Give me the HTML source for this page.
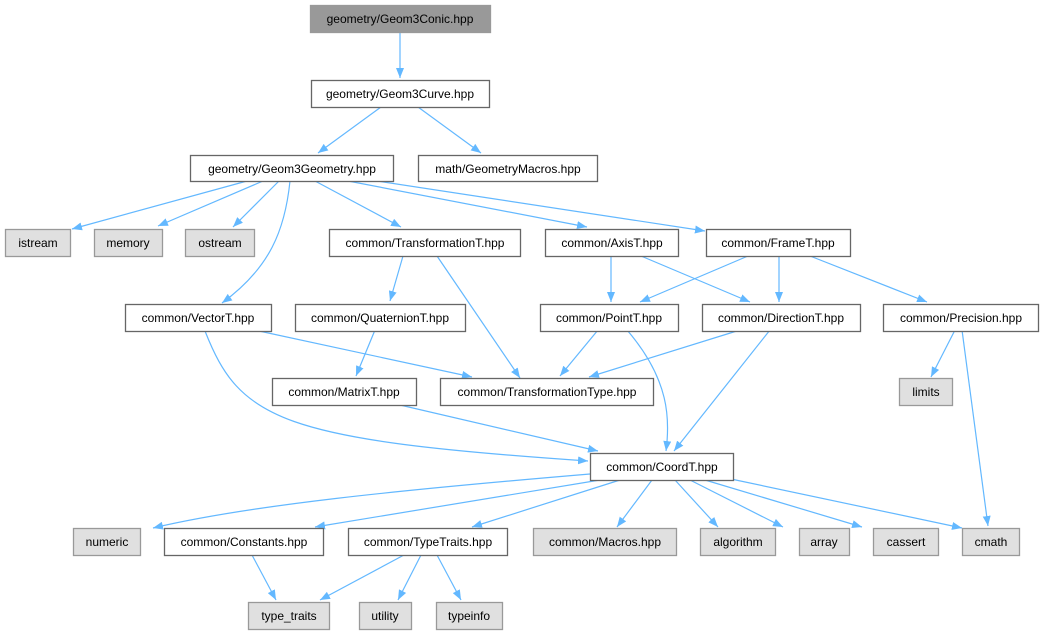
<!DOCTYPE html>
<html><head><meta charset="utf-8"><style>
html,body{margin:0;padding:0;background:#fff;}
svg{display:block;}
text{font-family:"Liberation Sans",Arial,sans-serif;font-size:12px;fill:#000;}
</style></head><body>
<svg width="1044" height="635" viewBox="0 0 1044 635" xmlns="http://www.w3.org/2000/svg">
<defs><marker id="a" markerWidth="10" markerHeight="8" refX="10" refY="4" orient="auto" markerUnits="userSpaceOnUse"><path d="M0,0 L10,4 L0,8 Z" fill="#63b8ff"/></marker></defs>
<g fill="none" stroke="#63b8ff" stroke-width="1.2" marker-end="url(#a)">
<path d="M400,32 L400,78"/>
<path d="M381,107 L318,153"/>
<path d="M418,107 L481,153"/>
<path d="M247,181 L72,229"/>
<path d="M263,181 L158,226"/>
<path d="M279,181 L233,227"/>
<path d="M290,181 C285,230 270,268 222,303"/>
<path d="M315,181 L401,227"/>
<path d="M348,181 L587,227"/>
<path d="M377,181 L705,231"/>
<path d="M403,256 L390,301"/>
<path d="M437,256 L520,378" />
<path d="M611,256 L611,302"/>
<path d="M641,256 L750,302"/>
<path d="M748,256 L640,302"/>
<path d="M779,256 L779,302"/>
<path d="M810,256 L927,302"/>
<path d="M375,330 L356,376"/>
<path d="M259,331 L472,377"/>
<path d="M598,330 L560,376"/>
<path d="M740,330 L589,377"/>
<path d="M627,330 C670,380 670,420 666,451"/>
<path d="M770,330 L674,451"/>
<path d="M205,331 C240,420 280,440 588,461"/>
<path d="M400,405 L598,451"/>
<path d="M955,330 L931,377"/>
<path d="M962,330 L988,526"/>
<path d="M590,474 C400,490 250,505 153,528"/>
<path d="M600,480 L315,527"/>
<path d="M620,480 L472,527"/>
<path d="M652,480 L617,527"/>
<path d="M675,480 L718,527"/>
<path d="M690,480 L783,527"/>
<path d="M705,480 L862,527"/>
<path d="M731,479 L962,528"/>
<path d="M252,555 L276,600"/>
<path d="M404,555 L320,600"/>
<path d="M421,555 L398,600"/>
<path d="M437,555 L461,600"/>
</g>
<g stroke="#999" stroke-width="1.3">
<rect x="310.5" y="5.5" width="180" height="27" fill="#999"/>
<rect x="311.5" y="80.5" width="178" height="27" fill="#fff" stroke="#666"/>
<rect x="190.5" y="155.5" width="203" height="26" fill="#fff" stroke="#666"/>
<rect x="418.5" y="155.5" width="179" height="26" fill="#fff" stroke="#666"/>
<rect x="5.5" y="229.5" width="65" height="27" fill="#e0e0e0"/>
<rect x="94.5" y="229.5" width="68" height="27" fill="#e0e0e0"/>
<rect x="185.5" y="229.5" width="69" height="27" fill="#e0e0e0"/>
<rect x="329.5" y="229.5" width="191" height="27" fill="#fff" stroke="#666"/>
<rect x="545.5" y="229.5" width="133" height="27" fill="#fff" stroke="#666"/>
<rect x="706.5" y="229.5" width="144" height="27" fill="#fff" stroke="#666"/>
<rect x="125.5" y="304.5" width="146" height="27" fill="#fff" stroke="#666"/>
<rect x="295.5" y="304.5" width="170" height="27" fill="#fff" stroke="#666"/>
<rect x="540.5" y="304.5" width="138" height="27" fill="#fff" stroke="#666"/>
<rect x="702.5" y="304.5" width="158" height="27" fill="#fff" stroke="#666"/>
<rect x="883.5" y="304.5" width="155" height="27" fill="#fff" stroke="#666"/>
<rect x="272.5" y="378.5" width="144" height="27" fill="#fff" stroke="#666"/>
<rect x="440.5" y="378.5" width="213" height="27" fill="#fff" stroke="#666"/>
<rect x="899.5" y="378.5" width="53" height="27" fill="#e0e0e0"/>
<rect x="590.5" y="453.5" width="143" height="27" fill="#fff" stroke="#666"/>
<rect x="73.5" y="528.5" width="67" height="27" fill="#e0e0e0"/>
<rect x="164.5" y="528.5" width="159" height="27" fill="#fff" stroke="#666"/>
<rect x="348.5" y="528.5" width="159" height="27" fill="#fff" stroke="#666"/>
<rect x="533.5" y="528.5" width="143" height="27" fill="#e0e0e0"/>
<rect x="700.5" y="528.5" width="75" height="27" fill="#e0e0e0"/>
<rect x="799.5" y="528.5" width="50" height="27" fill="#e0e0e0"/>
<rect x="873.5" y="528.5" width="65" height="27" fill="#e0e0e0"/>
<rect x="962.5" y="528.5" width="57" height="27" fill="#e0e0e0"/>
<rect x="248.5" y="602.5" width="81" height="27" fill="#e0e0e0"/>
<rect x="359.5" y="602.5" width="52" height="27" fill="#e0e0e0"/>
<rect x="436.5" y="602.5" width="66" height="27" fill="#e0e0e0"/>
</g>
<g text-anchor="middle">
<text x="400" y="23">geometry/Geom3Conic.hpp</text>
<text x="400" y="98">geometry/Geom3Curve.hpp</text>
<text x="292" y="173">geometry/Geom3Geometry.hpp</text>
<text x="508" y="173">math/GeometryMacros.hpp</text>
<text x="38" y="247">istream</text>
<text x="128" y="247">memory</text>
<text x="220" y="247">ostream</text>
<text x="425" y="247">common/TransformationT.hpp</text>
<text x="612" y="247">common/AxisT.hpp</text>
<text x="778" y="247">common/FrameT.hpp</text>
<text x="198" y="322">common/VectorT.hpp</text>
<text x="380" y="322">common/QuaternionT.hpp</text>
<text x="609" y="322">common/PointT.hpp</text>
<text x="781" y="322">common/DirectionT.hpp</text>
<text x="961" y="322">common/Precision.hpp</text>
<text x="344" y="396">common/MatrixT.hpp</text>
<text x="547" y="396">common/TransformationType.hpp</text>
<text x="926" y="396">limits</text>
<text x="662" y="471">common/CoordT.hpp</text>
<text x="107" y="546">numeric</text>
<text x="244" y="546">common/Constants.hpp</text>
<text x="428" y="546">common/TypeTraits.hpp</text>
<text x="605" y="546">common/Macros.hpp</text>
<text x="738" y="546">algorithm</text>
<text x="824" y="546">array</text>
<text x="906" y="546">cassert</text>
<text x="991" y="546">cmath</text>
<text x="289" y="620">type_traits</text>
<text x="385" y="620">utility</text>
<text x="469" y="620">typeinfo</text>
</g>
</svg>
</body></html>
